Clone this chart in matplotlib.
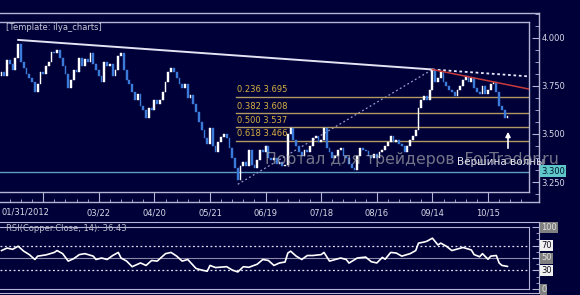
import numpy as np
import matplotlib
matplotlib.use("Agg")
import matplotlib.pyplot as plt
from matplotlib.ticker import MultipleLocator, FixedLocator

# ---------------- data ----------------
first_open = 3.800
closes = [
    3.823, 3.802, 3.885, 3.865, 3.833, 3.896, 3.969, 3.875, 3.844, 3.813,
    3.792, 3.771, 3.719, 3.760, 3.823, 3.813, 3.854, 3.875, 3.927, 3.922,
    3.938, 3.896, 3.854, 3.813, 3.740, 3.781, 3.833, 3.823, 3.896, 3.854,
    3.891, 3.875, 3.922, 3.865, 3.833, 3.802, 3.771, 3.875, 3.854, 3.865,
    3.802, 3.833, 3.906, 3.922, 3.833, 3.781, 3.760, 3.719, 3.677, 3.708,
    3.646, 3.625, 3.583, 3.635, 3.625, 3.677, 3.656, 3.677, 3.719, 3.771,
    3.823, 3.844, 3.823, 3.792, 3.760, 3.740, 3.760, 3.688, 3.703, 3.656,
    3.615, 3.563, 3.521, 3.479, 3.448, 3.531, 3.438, 3.406, 3.458, 3.484,
    3.500, 3.479, 3.427, 3.375, 3.323, 3.260, 3.333, 3.354, 3.333, 3.417,
    3.339, 3.323, 3.365, 3.417, 3.406, 3.438, 3.375, 3.365, 3.375, 3.344,
    3.354, 3.333, 3.339, 3.500, 3.531, 3.469, 3.438, 3.406, 3.385, 3.417,
    3.406, 3.438, 3.479, 3.490, 3.458, 3.469, 3.531, 3.427, 3.406, 3.375,
    3.385, 3.417, 3.427, 3.385, 3.375, 3.344, 3.323, 3.313, 3.385, 3.427,
    3.417, 3.412, 3.385, 3.375, 3.396, 3.375, 3.406, 3.417, 3.438, 3.458,
    3.490, 3.458, 3.469, 3.448, 3.438, 3.406, 3.438, 3.469, 3.490, 3.521,
    3.635, 3.677, 3.698, 3.677, 3.729, 3.833, 3.771, 3.792, 3.823, 3.771,
    3.750, 3.729, 3.719, 3.698, 3.729, 3.750, 3.781, 3.802, 3.771, 3.792,
    3.740, 3.719, 3.708, 3.750, 3.708, 3.729, 3.760, 3.771, 3.719, 3.646,
    3.625, 3.583, 3.594,
]

date_ticks = [15, 35, 55, 75, 95, 115, 135, 155, 175]
date_labels = ["", "03/22", "04/20", "05/21", "06/19", "07/18", "08/16", "09/14", "10/15"]
first_date = "01/31/2012"

price_ticks = [3.25, 3.50, 3.75, 4.00]

fib_ratios = ["0.236", "0.382", "0.500", "0.618"]
fib_prices = [3.695, 3.608, 3.537, 3.466]
swing_low_bar, swing_low = 85, 3.238
swing_high_bar, swing_high = 155, 3.836
trend_start_bar, trend_start = 6, 3.990
trend_end_price = 3.800
red_end_price = 3.734
support = 3.300

rsi_bars = [0, 2, 4, 6, 8, 10, 12, 13, 16, 19, 20, 22, 24, 26, 28, 30, 33, 34, 36, 38,
            40, 42, 43, 45, 47, 50, 52, 54, 56, 59, 61, 63, 65, 67, 70, 72, 74, 75, 77, 81,
            83, 85, 87, 89, 92, 94, 96, 98, 100, 102, 103, 104, 106, 108, 110, 112, 115, 116, 118, 122,
            124, 125, 128, 131, 133, 135, 137, 138, 140, 142, 144, 147, 149, 150, 152, 153, 155, 157, 158, 160,
            162, 164, 166, 169, 170, 172, 173, 175, 176, 178, 179, 180, 182]
rsi_vals = [62, 66, 64, 69, 61, 55.5, 47.6, 53, 55, 59, 62, 57, 45, 49, 55.5, 57, 53, 47.6, 50, 47.6,
            54, 59, 50, 45, 36, 42, 38, 46, 45, 57, 59, 53, 45, 47.6, 33, 30.6, 28.6, 38, 34.6, 36,
            30.6, 27.5, 36, 35, 40, 47.6, 46, 38, 42, 43.5, 58, 61, 53, 47.6, 54, 54, 55.5, 59, 45, 50,
            47.6, 41.8, 50, 51.5, 44, 42, 51, 48, 59, 58, 53, 57, 62, 74, 75.7, 77, 82, 71, 74, 69,
            62, 64.5, 67, 63, 55.5, 52, 57, 48, 53, 54, 42, 38, 36.43]
rsi_levels = [100, 70, 50, 30, 0]

# ---------------- styling ----------------
W, H = 580, 295
BG = '#000038'
FRAME = '#b4b4d4'
TXT = '#d8d8e8'
UP = '#ffffff'
DOWN = '#3b7ad8'
FIB = '#b09a62'
FIBTXT = '#d8b040'

PX_BAR = 2.78


def bar_at(px):
    return (px - 1.5) / PX_BAR


def price_at(py):
    return 4.0 - (py - 38) / 192.0


fig = plt.figure(figsize=(W / 100, H / 100), dpi=100, facecolor=BG)


def box(x0, y0, x1, y1, z=0):
    a = fig.add_axes([x0 / W, 1 - y1 / H, (x1 - x0) / W, (y1 - y0) / H])
    a.set_zorder(z)
    a.set_facecolor(BG)
    return a


# outer frame of the price panel, carries the axes ticks
fr = box(0, 13, 539, 202, 0)
fr.set_xlim(bar_at(0), bar_at(539))
fr.set_ylim(price_at(202), price_at(13))
fr.spines['left'].set_visible(False)
for s in ['top', 'right', 'bottom']:
    fr.spines[s].set_color(FRAME)
    fr.spines[s].set_linewidth(1)
fr.yaxis.tick_right()
fr.set_yticks(price_ticks)
fr.set_yticklabels(["%.3f" % p for p in price_ticks])
fr.yaxis.set_minor_locator(MultipleLocator(0.0625))
fr.tick_params(axis='y', which='major', direction='in', length=5, color=FRAME,
               labelcolor=TXT, labelsize=6, pad=2)
fr.tick_params(axis='y', which='minor', direction='in', length=3, color=FRAME)
fr.set_xticks(date_ticks)
fr.set_xticklabels(date_labels)
fr.xaxis.set_minor_locator(FixedLocator(np.arange(-1, 190, 4)))
fr.tick_params(axis='x', which='major', direction='in', length=7.2, color=FRAME,
               labelcolor=TXT, labelsize=6, pad=5)
fr.tick_params(axis='x', which='minor', direction='in', length=2.5, color=FRAME)
fig.text(1 / W, 1 - 212 / H, first_date, color=TXT, fontsize=6, ha='left', va='center')

# price plot area
ax = box(0, 22, 529, 192, 1)
ax.set_xlim(bar_at(0), bar_at(529))
ax.set_ylim(price_at(192), price_at(22))
ax.spines['left'].set_visible(False)
for s in ['top', 'right', 'bottom']:
    ax.spines[s].set_color(FRAME)
    ax.spines[s].set_linewidth(1)
ax.set_xticks([])
ax.set_yticks([])

closes = np.array(closes)
opens = np.concatenate([[first_open], closes[:-1]])
idx = np.arange(len(closes))
up = closes >= opens
dn = ~up
ax.bar(idx[up], (closes - opens)[up], bottom=opens[up], width=0.65,
       color=UP, edgecolor=UP, linewidth=0.3, zorder=3)
ax.bar(idx[dn], (closes - opens)[dn], bottom=opens[dn], width=0.65,
       color=DOWN, edgecolor=DOWN, linewidth=0.3, zorder=3)

# support line
ax.axhline(support, color='#5e9cc0', lw=1, zorder=2)

# fibonacci retracement
right_bar = bar_at(529)
ax.plot([swing_low_bar, swing_high_bar], [swing_low, swing_high], color='#9a9ac8',
        lw=0.9, ls=(0, (1.5, 2)), zorder=2)
for r, p in zip(fib_ratios, fib_prices):
    ax.plot([swing_low_bar - 0.5, right_bar], [p, p], color=FIB, lw=1, zorder=2)
    ax.text(swing_low_bar - 0.3, p + 0.012, "%s %.3f" % (r, p), color=FIBTXT,
            fontsize=6, ha='left', va='bottom', zorder=4)

# trend lines
ax.plot([trend_start_bar, swing_high_bar], [trend_start, swing_high], color='#e4e4f4',
        lw=1.4, zorder=4)
ax.plot([swing_high_bar, right_bar], [swing_high, trend_end_price], color='#e8e8ff',
        lw=1.3, ls=(0, (1.5, 1.5)), zorder=4)
ax.plot([swing_high_bar, right_bar], [swing_high, red_end_price], color='#c83a3a',
        lw=1.1, zorder=4)

# wave top arrow
ax.annotate("", xy=(182.2, price_at(129)), xytext=(182.2, price_at(151)),
            arrowprops=dict(arrowstyle='-|>', color='white', lw=1.2,
                            mutation_scale=7), zorder=5)
ax.text(164, price_at(162), "Вершина волны", color='#e8e8f0', fontsize=7.5,
        ha='left', va='center', clip_on=False, zorder=5)

fig.text(6 / W, 1 - 28 / H, "[Template: ilya_charts]", color='#c8c8d8', fontsize=6,
         ha='left', va='center')

# support price tag
fig.text(541 / W, 1 - 171 / H, "3.300", color='#001030', fontsize=6, ha='left',
         va='center', bbox=dict(boxstyle='square,pad=0.15', fc='#5ec8c8', ec='none'))

# ---------------- RSI panel ----------------
rfr = box(0, 222, 539, 293, 0)
rfr.set_xlim(bar_at(0), bar_at(539))
rfr.set_ylim(-4 * 100 / 62, 100 + 5 * 100 / 62)
rfr.spines['left'].set_visible(False)
for s in ['top', 'right', 'bottom']:
    rfr.spines[s].set_color(FRAME)
rfr.set_xticks([])
rfr.yaxis.tick_right()
rfr.set_yticks(rsi_levels)
rfr.set_yticklabels([])
rfr.yaxis.set_minor_locator(MultipleLocator(10))
rfr.tick_params(axis='y', which='major', direction='in', length=5, color=FRAME)
rfr.tick_params(axis='y', which='minor', direction='in', length=2.5, color=FRAME)
for lv in rsi_levels:
    light = lv in (70, 30)
    rfr.text(bar_at(541), lv, str(lv), fontsize=6, ha='left', va='center',
             color='#101020' if light else '#e0e0e0', clip_on=False,
             bbox=dict(boxstyle='square,pad=0.12', fc='#f0f0f0' if light else '#808080',
                       ec='none'))

rx = box(0, 227, 529, 289, 1)
rx.set_xlim(bar_at(0), bar_at(529))
rx.set_ylim(0, 100)
rx.spines['left'].set_visible(False)
for s in ['top', 'right', 'bottom']:
    rx.spines[s].set_color(FRAME)
rx.set_xticks([])
rx.set_yticks([])
rx.axhline(70, color='#e0e0f0', lw=0.9, ls=(0, (1.5, 2)))
rx.axhline(30, color='#e0e0f0', lw=0.9, ls=(0, (1.5, 2)))
rx.axhline(50, color='#8a8aa8', lw=0.8)
rx.plot(rsi_bars, rsi_vals, color='white', lw=1.2, zorder=3)

fig.text(6 / W, 1 - 228.5 / H, "RSI(Copper.Close, 14): %.2f" % rsi_vals[-1],
         color='#c0c0d0', fontsize=6, ha='left', va='center')

# watermark
fig.text(265 / W, 1 - 159 / H, "Портал для трейдеров  ForTrader.ru", color='#b4b4b4',
         alpha=0.65, fontsize=11.3, ha='left', va='center')

fig.savefig("out.png", dpi=100, facecolor=BG)
